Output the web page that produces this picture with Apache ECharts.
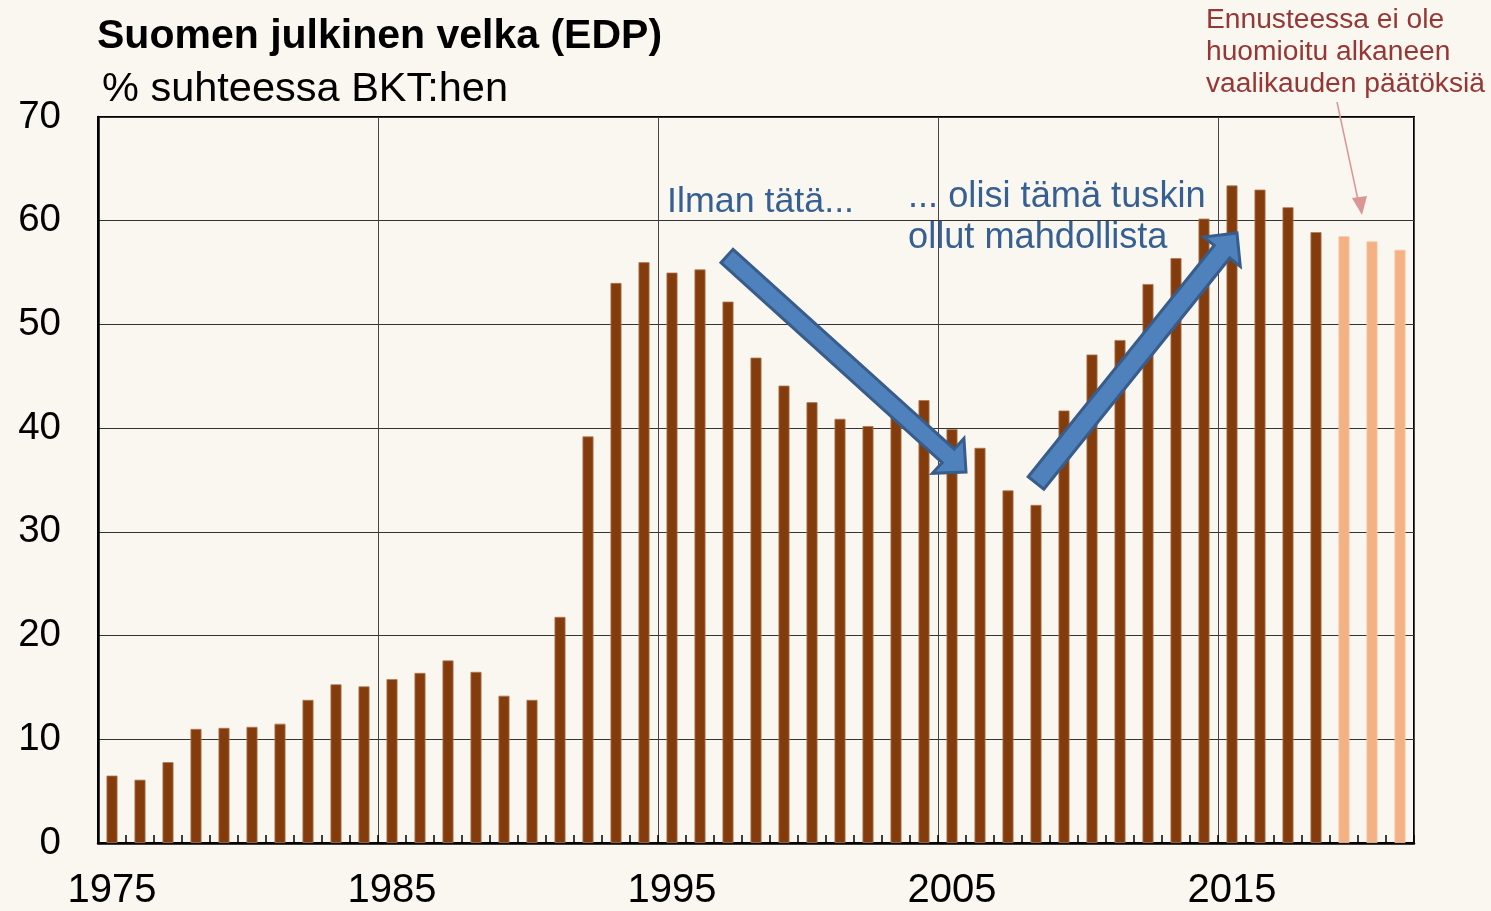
<!DOCTYPE html>
<html>
<head>
<meta charset="utf-8">
<script src="https://cdn.jsdelivr.net/npm/echarts@6/dist/echarts.min.js"></script>
<style>
    html, body { margin: 0; padding: 0; background: #FAF6F0; }
    #chart { width: 1491px; height: 911px; }
</style>
</head>
<body>
<div id="chart"></div>
<script>
var years = ['1975', '1976', '1977', '1978', '1979', '1980', '1981', '1982', '1983', '1984',
    '1985', '1986', '1987', '1988', '1989', '1990', '1991', '1992', '1993', '1994',
    '1995', '1996', '1997', '1998', '1999', '2000', '2001', '2002', '2003', '2004',
    '2005', '2006', '2007', '2008', '2009', '2010', '2011', '2012', '2013', '2014',
    '2015', '2016', '2017', '2018', '2019', '2020', '2021'];
var debt = [6.5, 6.1, 7.8, 11.0, 11.1, 11.2, 11.5, 13.8, 15.3, 15.1,
    15.8, 16.4, 17.6, 16.5, 14.2, 13.8, 21.8, 39.2, 54.0, 56.0,
    55.0, 55.3, 52.2, 46.8, 44.1, 42.5, 40.9, 40.2, 42.8, 42.7,
    39.9, 38.1, 34.0, 32.6, 41.7, 47.1, 48.5, 53.9, 56.4, 60.2,
    63.4, 63.0, 61.3, 58.9, 58.5, 58.0, 57.2];
var forecastFrom = '2019';
var yMin = 0, yMax = 70, yStep = 10;

var font = '"Liberation Sans", Arial, sans-serif';

function echarts_debt() {
    var myChart = echarts.init(document.getElementById('chart'));

    var barData = years.map(function (y, i) {
        var fc = y >= forecastFrom;
        return {
            value: debt[i],
            itemStyle: {
                color: fc ? '#F4B183' : '#843C0C',
                borderColor: fc ? '#F8C8A4' : '#B07A55'
            }
        };
    });

    // block arrow outline, tail/tip in pixels
    function blockArrow(tail, tip, shaftW, headW, headL) {
        var dx = tip[0] - tail[0], dy = tip[1] - tail[1];
        var len = Math.sqrt(dx * dx + dy * dy);
        var ux = dx / len, uy = dy / len, px = -uy, py = ux;
        var bx = tip[0] - ux * headL, by = tip[1] - uy * headL;
        var s = shaftW / 2, h = headW / 2;
        return [
            [tail[0] + px * s, tail[1] + py * s],
            [bx + px * s, by + py * s],
            [bx + px * h, by + py * h],
            tip,
            [bx - px * h, by - py * h],
            [bx - px * s, by - py * s],
            [tail[0] - px * s, tail[1] - py * s]
        ];
    }

    var arrowStyle = { fill: '#4F81BD', stroke: '#385D8A', lineWidth: 3, lineJoin: 'miter' };

    option = {
        backgroundColor: '#FAF6F0',
        animation: false,
        title: [
            {
                text: 'Suomen julkinen velka (EDP)',
                left: 97, top: 16, padding: 0,
                textStyle: { fontFamily: font, fontSize: 41, fontWeight: 'bold', color: '#000' }
            },
            {
                text: '% suhteessa BKT:hen',
                left: 102, top: 69, padding: 0,
                textStyle: { fontFamily: font, fontSize: 41.5, fontWeight: 'normal', color: '#000' }
            }
        ],
        grid: {
            left: 98, right: 77, top: 117, bottom: 68,
            show: true,
            borderColor: '#000',
            borderWidth: 2,
            backgroundColor: 'transparent'
        },
        xAxis: {
            type: 'category',
            data: years,
            boundaryGap: true,
            axisLine: { lineStyle: { color: '#000', width: 2.5 } },
            axisTick: { show: true, inside: true, interval: 0, length: 8, lineStyle: { color: '#000', width: 1.5 } },
            axisLabel: { interval: 9, color: '#000', fontSize: 40, fontFamily: font, margin: 28 },
            splitLine: { show: true, interval: 9, lineStyle: { color: '#444', width: 1 } }
        },
        yAxis: {
            type: 'value',
            min: yMin, max: yMax, interval: yStep,
            axisLine: { show: true, lineStyle: { color: '#000', width: 2.5 } },
            axisTick: { show: false },
            axisLabel: { color: '#000', fontSize: 38.5, fontFamily: font, margin: 37 },
            splitLine: { show: true, lineStyle: { color: '#333', width: 1.2 } }
        },
        series: [
            {
                name: 'Velka',
                type: 'bar',
                data: barData,
                barWidth: 11,
                itemStyle: { borderWidth: 0.8 }
            }
        ],
        graphic: [
            { type: 'polygon', z: 100, shape: { points: blockArrow([727, 256], [966, 472], 18, 47, 24) }, style: arrowStyle },
            { type: 'polygon', z: 100, shape: { points: blockArrow([1036, 483], [1237, 233], 20, 47, 24) }, style: arrowStyle },
            {
                type: 'text', z: 100, left: 667, top: 184,
                style: { text: 'Ilman tätä...', font: '35.8px ' + font, fill: '#376092' }
            },
            {
                type: 'text', z: 100, left: 908, top: 177,
                style: { text: '... olisi tämä tuskin\nollut mahdollista', font: '36.2px ' + font, fill: '#376092', lineHeight: 41 }
            },
            {
                type: 'text', z: 100, left: 1206, top: 4,
                style: { text: 'Ennusteessa ei ole\nhuomioitu alkaneen\nvaalikauden päätöksiä', font: '28.2px ' + font, fill: '#953735', lineHeight: 32 }
            },
            { type: 'line', z: 100, shape: { x1: 1337, y1: 102, x2: 1358, y2: 200 }, style: { stroke: '#D99694', lineWidth: 1.5 } },
            { type: 'polygon', z: 100, shape: { points: [[1352, 198], [1367, 196], [1362, 215]] }, style: { fill: '#D99694' } }
        ]
    };

    myChart.setOption(option);
    window.addEventListener('resize', function () {
        myChart.resize();
    });
}
echarts_debt();
</script>
</body>
</html>
